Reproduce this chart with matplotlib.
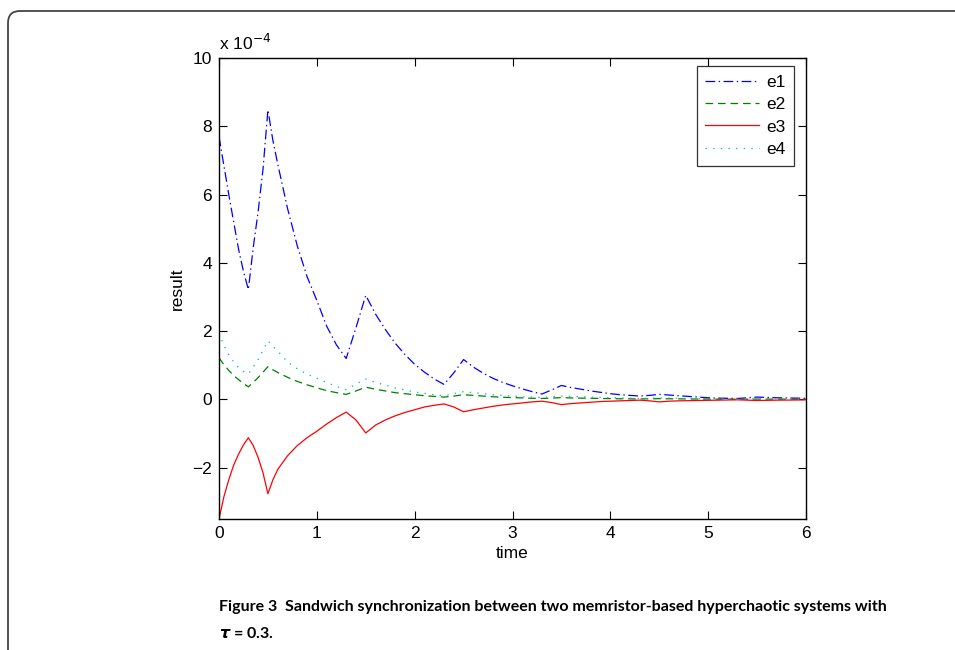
import matplotlib
matplotlib.use("Agg")
import matplotlib.pyplot as plt
from matplotlib.patches import FancyBboxPatch

plt.rcParams['font.family'] = ['Liberation Sans', 'DejaVu Sans']
plt.rcParams['lines.scale_dashes'] = False

# time points
time = [0.0, 0.05, 0.1, 0.15, 0.2, 0.25, 0.3, 0.35, 0.4, 0.45, 0.5, 0.55,
        0.6, 0.7, 0.8, 0.9, 1.0, 1.1, 1.2, 1.3, 1.4, 1.5,
        1.6, 1.7, 1.8, 1.9, 2.0, 2.1, 2.2, 2.3, 2.4, 2.5,
        2.6, 2.7, 2.8, 2.9, 3.0, 3.1, 3.2, 3.3, 3.4, 3.5,
        3.6, 3.7, 3.8, 3.9, 4.0, 4.1, 4.2, 4.3, 4.4, 4.5,
        4.6, 4.7, 4.8, 4.9, 5.0, 5.1, 5.2, 5.3, 5.4, 5.5,
        5.6, 5.7, 5.8, 5.9, 6.0]

# values in units of 1e-4
e1 = [7.7, 6.85, 6.0, 5.2, 4.4, 3.75, 3.22, 4.45, 5.5, 6.75, 8.48, 7.6,
      6.9, 5.6, 4.5, 3.6, 2.9, 2.15, 1.6, 1.2, 2.1, 3.05,
      2.5, 2.05, 1.65, 1.32, 1.03, 0.8, 0.6, 0.44, 0.78, 1.17,
      0.95, 0.77, 0.62, 0.5, 0.4, 0.31, 0.23, 0.16, 0.28, 0.41,
      0.35, 0.3, 0.25, 0.21, 0.17, 0.14, 0.12, 0.1, 0.12, 0.15,
      0.13, 0.11, 0.09, 0.07, 0.05, 0.04, 0.035, 0.03, 0.05, 0.07,
      0.06, 0.05, 0.045, 0.04, 0.035]
e2 = [1.22, 1.02, 0.85, 0.7, 0.58, 0.47, 0.37, 0.5, 0.64, 0.8, 0.96, 0.87,
      0.79, 0.65, 0.53, 0.43, 0.34, 0.26, 0.2, 0.15, 0.25, 0.36,
      0.3, 0.25, 0.2, 0.17, 0.14, 0.11, 0.09, 0.07, 0.1, 0.14,
      0.12, 0.1, 0.08, 0.065, 0.055, 0.045, 0.035, 0.03, 0.04, 0.055,
      0.045, 0.04, 0.035, 0.03, 0.025, 0.02, 0.018, 0.015, 0.02, 0.025,
      0.02, 0.018, 0.015, 0.013, 0.011, 0.01, 0.009, 0.008, 0.01, 0.012,
      0.011, 0.01, 0.009, 0.008, 0.008]
e3 = [-3.5, -2.85, -2.35, -1.92, -1.6, -1.33, -1.12, -1.35, -1.7, -2.15, -2.76, -2.36,
      -2.05, -1.65, -1.35, -1.12, -0.93, -0.72, -0.53, -0.37, -0.6, -0.98,
      -0.75, -0.6, -0.48, -0.38, -0.3, -0.22, -0.17, -0.13, -0.22, -0.36,
      -0.3, -0.25, -0.2, -0.16, -0.13, -0.1, -0.07, -0.05, -0.09, -0.15,
      -0.12, -0.1, -0.08, -0.06, -0.05, -0.04, -0.03, -0.02, -0.04, -0.07,
      -0.05, -0.04, -0.035, -0.03, -0.025, -0.02, -0.015, -0.01, -0.02, -0.03,
      -0.025, -0.02, -0.018, -0.015, -0.012]
e4 = [1.95, 1.58, 1.32, 1.1, 0.93, 0.82, 0.75, 0.95, 1.17, 1.45, 1.72, 1.56,
      1.42, 1.1, 0.9, 0.74, 0.62, 0.5, 0.38, 0.29, 0.45, 0.6,
      0.5, 0.42, 0.34, 0.28, 0.22, 0.18, 0.14, 0.11, 0.17, 0.23,
      0.2, 0.17, 0.14, 0.12, 0.1, 0.08, 0.07, 0.06, 0.08, 0.1,
      0.09, 0.08, 0.07, 0.06, 0.05, 0.045, 0.04, 0.03, 0.038, 0.045,
      0.04, 0.035, 0.03, 0.025, 0.022, 0.02, 0.017, 0.015, 0.018, 0.02,
      0.018, 0.016, 0.015, 0.013, 0.012]

series_names = ['e1', 'e2', 'e3', 'e4']
x_ticks = [0, 1, 2, 3, 4, 5, 6]
y_ticks = [-2, 0, 2, 4, 6, 8, 10]
scale = 1e-4

fig = plt.figure(figsize=(9.55, 6.5), dpi=100)
ax = fig.add_axes([219/955, 1-519/650, (806-219)/955, (519-58)/650])

styles = [
    dict(color=(0, 0, 1), linestyle=(0, (7, 2.5, 1, 2.5))),
    dict(color=(0, 0.5, 0), linestyle=(0, (5.5, 3.5))),
    dict(color=(1, 0, 0), linestyle='-'),
    dict(color=(0.0, 0.75, 0.75), linestyle=(0, (1, 4.5))),
]
for name, vals, st in zip(series_names, [e1, e2, e3, e4], styles):
    ax.plot(time, [v*scale for v in vals], lw=0.9, label=name, **st)

FS = 12.5
ax.set_xlim(0, 6)
ax.set_ylim(-3.5*scale, 10*scale)
ax.set_xticks(x_ticks)
ax.set_xticklabels([str(v) for v in x_ticks])
ax.set_yticks([v*scale for v in y_ticks])
ax.set_yticklabels([('\u2212' + str(-v)) if v < 0 else str(v) for v in y_ticks])
ax.tick_params(direction='in', top=True, right=True, length=6, width=0.8,
               labelsize=FS, pad=5)
for sp in ax.spines.values():
    sp.set_linewidth(1.0)

ax.text(0.0, 1.01, r'x 10$^{-4}$', transform=ax.transAxes, fontsize=FS,
        ha='left', va='bottom')
ax.set_xlabel('time', fontsize=FS, labelpad=4)
ax.set_ylabel('result', fontsize=FS, labelpad=5)

leg = ax.legend(loc='upper right', bbox_to_anchor=(0.98, 0.983), fontsize=FS,
                frameon=True, fancybox=False, edgecolor='black',
                handlelength=3.1, handletextpad=0.4, borderpad=0.5,
                labelspacing=0.42, borderaxespad=0.0)
leg.get_frame().set_linewidth(0.9)

# frame around figure panel
frame = FancyBboxPatch((0.08, -1.0), 11.0, 6.39 + 1.0,
                       boxstyle="round,pad=0,rounding_size=0.12",
                       transform=fig.dpi_scale_trans, fill=False,
                       edgecolor='#444444', linewidth=1.3)
fig.patches.append(frame)

CFS = 11.5
fig.text(219/955, 1-607/650,
         'Figure 3  Sandwich synchronization between two memristor-based hyperchaotic systems with',
         fontsize=CFS, fontweight='bold', family=['Lato', 'DejaVu Sans'],
         ha='left', va='center')
fig.text(219/955, 1-634/650, r'$\boldsymbol{\tau}$ = 0.3.',
         fontsize=CFS, fontweight='bold', family=['Lato', 'DejaVu Sans'],
         ha='left', va='center')

fig.savefig('out.png', dpi=100)
